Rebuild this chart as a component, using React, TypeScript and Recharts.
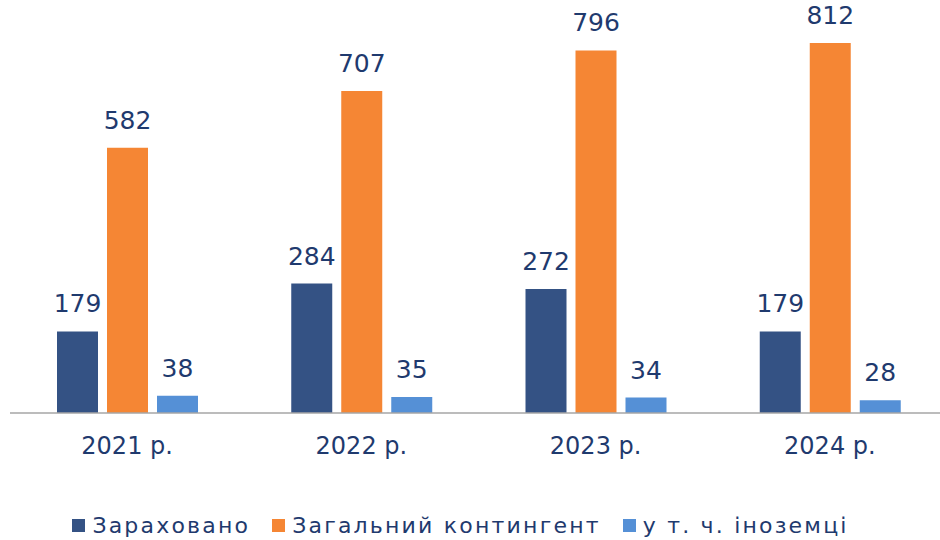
import React from "react";
import {
  BarChart,
  Bar,
  XAxis,
  YAxis,
  LabelList,
  Legend,
} from "recharts";

const years = ["2021 р.", "2022 р.", "2023 р.", "2024 р."];
const enrolled = [179, 284, 272, 179];
const totalContingent = [582, 707, 796, 812];
const foreigners = [38, 35, 34, 28];

const series = [
  { key: "enrolled", name: "Зараховано", color: "#345284" },
  { key: "total", name: "Загальний контингент", color: "#F58634" },
  { key: "foreign", name: "у т. ч. іноземці", color: "#5590D6" },
];

const data = years.map((year, i) => ({
  year,
  enrolled: enrolled[i],
  total: totalContingent[i],
  foreign: foreigners[i],
}));

const textColor = "#1F3A6E";
const font = "'DejaVu Sans', sans-serif";

const YearTick = ({ x, y, payload }: any) => (
  <text
    x={x}
    y={y}
    dy={33}
    textAnchor="middle"
    fill={textColor}
    fontSize={24}
    fontFamily={font}
  >
    {payload.value}
  </text>
);

const CustomLegend = () => (
  <div
    style={{
      height: 30,
      display: "flex",
      justifyContent: "center",
      alignItems: "center",
      gap: 22,
      fontFamily: font,
      fontSize: 22,
      color: textColor,
      letterSpacing: 2.2,
      paddingRight: 36,
    }}
  >
    {series.map((s) => (
      <span key={s.key} style={{ display: "flex", alignItems: "center" }}>
        <span
          style={{
            width: 13,
            height: 13,
            background: s.color,
            display: "inline-block",
            marginRight: 7,
          }}
        />
        {s.name}
      </span>
    ))}
  </div>
);

export default function App() {
  return (
    <div
      style={{
        position: "absolute",
        left: 0,
        top: 0,
        width: 940,
        height: 540,
        overflow: "hidden",
        background: "#fff",
      }}
    >
      <BarChart
        width={948}
        height={540}
        data={data}
        margin={{ top: 3, right: 1, left: 10, bottom: 57 }}
        barSize={41}
        barGap={9}
      >
        <XAxis
          dataKey="year"
          axisLine={{ stroke: "#A6A6A6", strokeWidth: 1.5 }}
          tickLine={false}
          height={40}
          tick={<YearTick />}
          interval={0}
        />
        <YAxis hide domain={[0, 900]} />
        <Legend
          content={<CustomLegend />}
          verticalAlign="bottom"
          wrapperStyle={{ bottom: 0 }}
        />
        {series.map((s) => (
          <Bar
            key={s.key}
            dataKey={s.key}
            name={s.name}
            fill={s.color}
            isAnimationActive={false}
          >
            <LabelList
              dataKey={s.key}
              position="top"
              offset={19}
              fill={textColor}
              fontSize={25}
              fontFamily={font}
            />
          </Bar>
        ))}
      </BarChart>
    </div>
  );
}
